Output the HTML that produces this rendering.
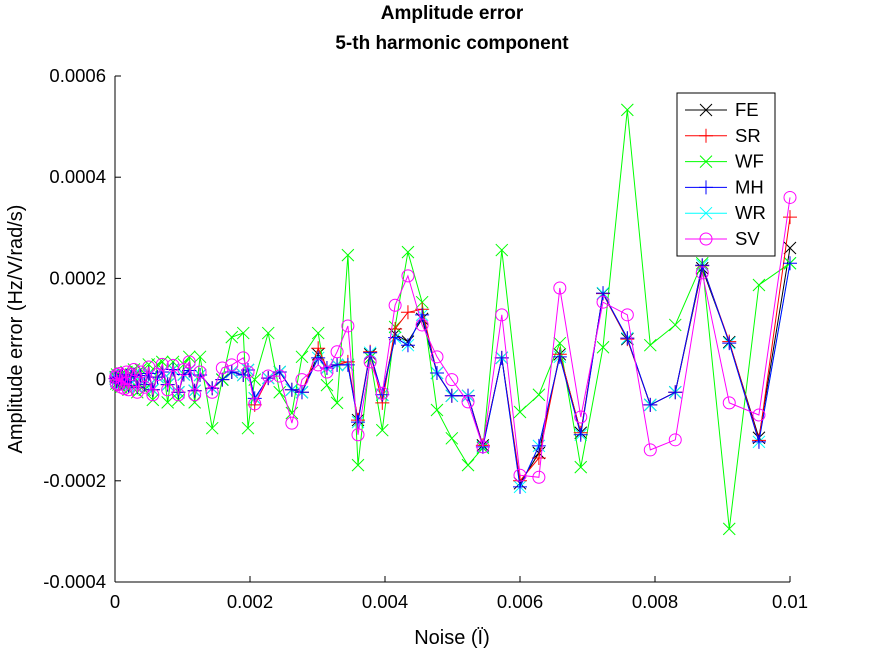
<!DOCTYPE html>
<html><head><meta charset="utf-8"><style>
body{margin:0;background:#fff;}
svg text{font-family:"Liberation Sans",sans-serif;}
</style></head><body>
<svg id="chart" width="872" height="654" xmlns="http://www.w3.org/2000/svg">
<rect width="872" height="654" fill="#fff"/>
<text x="452" y="19" text-anchor="middle" font-size="19" font-weight="bold">Amplitude error</text>
<text x="452" y="49" text-anchor="middle" font-size="19" font-weight="bold">5-th harmonic component</text>
<text transform="translate(22,329) rotate(-90)" text-anchor="middle" font-size="20">Amplitude error (Hz/V/rad/s)</text>
<text x="452" y="644" text-anchor="middle" font-size="20">Noise (Ï)</text>
<g id="axes"></g>
<g id="series"></g>
<g id="legend"></g>
</svg>
<script>
// x in units of 1e-3, y in units of 1e-4
const xVals=[0.01,0.02,0.03,0.05,0.07,0.09,0.11,0.14,0.17,0.2,0.24,0.28,0.33,0.38,0.44,0.5,0.56,0.63,0.7,0.78,0.86,0.94,1.02,1.1,1.18,
1.26,1.44,1.59,1.73,1.90,1.97,2.07,2.27,2.44,2.62,2.77,3.01,3.14,3.29,3.45,3.60,3.78,3.96,4.15,4.34,4.55,4.77,4.99,5.23,5.45,5.73,6.00,6.28,6.59,6.90,7.23,7.59,7.93,8.30,8.70,9.10,9.54,10.0];
const mhVals=[0.02,-0.03,0.05,-0.06,0.04,-0.08,0.1,-0.05,0.07,-0.12,0.06,0.1,-0.15,0.08,-0.1,0.12,-0.2,0.05,0.15,-0.1,0.2,-0.25,0.1,0.18,-0.22,
0.09,-0.17,0,0.15,0.09,0.19,-0.37,0.03,0.15,-0.2,-0.25,0.43,0.23,0.29,0.29,-0.84,0.53,-0.3,0.83,0.68,1.28,0.13,-0.32,-0.32,-1.33,0.43,-2.12,-1.31,0.45,-1.09,1.71,0.82,-0.5,-0.25,2.26,0.72,-1.23,2.3];
const feVals=[0.02,-0.03,0.05,-0.06,0.04,-0.08,0.1,-0.05,0.07,-0.12,0.06,0.1,-0.15,0.08,-0.1,0.12,-0.2,0.05,0.15,-0.1,0.2,-0.25,0.1,0.18,-0.22,
0.09,-0.17,0,0.15,0.09,0.19,-0.37,0.03,0.15,-0.2,-0.25,0.5,0.23,0.29,0.29,-0.8,0.5,-0.3,0.9,0.75,1.2,0.13,-0.32,-0.32,-1.3,0.43,-2.05,-1.45,0.5,-1.05,1.7,0.8,-0.5,-0.25,2.2,0.74,-1.15,2.6];
const srVals=[0.02,-0.03,0.05,-0.06,0.04,-0.08,0.1,-0.05,0.07,-0.12,0.06,0.1,-0.15,0.08,-0.1,0.12,-0.2,0.05,0.15,-0.1,0.2,-0.25,0.1,0.18,-0.22,
0.09,-0.17,0,0.15,0.09,0.19,-0.5,0.03,0.15,-0.2,-0.25,0.62,0.23,0.29,0.35,-0.8,0.55,-0.46,1.0,1.33,1.39,0.13,-0.32,-0.32,-1.3,0.43,-2.0,-1.55,0.5,-1.05,1.7,0.8,-0.5,-0.25,2.25,0.75,-1.2,3.21];
const wrVals=mhVals.slice();
const wfVals=[0.05,-0.08,0.1,-0.1,0.08,-0.15,0.12,-0.1,0.15,-0.2,0.1,0.2,-0.25,0.2,-0.2,0.3,-0.4,0.3,0.35,-0.45,0.35,-0.4,0.3,0.45,-0.45,
0.45,-0.96,0,0.84,0.92,-0.96,0,0.92,-0.25,-0.66,0.45,0.92,-0.11,-0.46,2.46,-1.69,0.43,-1.0,1.04,2.52,1.53,-0.6,-1.16,-1.69,-1.35,2.56,-0.64,-0.3,0.72,-1.73,0.64,5.33,0.68,1.08,2.3,-2.95,1.87,2.3];
const svVals=[0.05,-0.08,0.1,-0.1,0.12,-0.15,0.08,-0.18,0.15,-0.2,0.1,0.2,-0.25,0.15,-0.15,0.25,-0.3,0.1,0.3,-0.2,0.28,-0.3,0.2,0.35,-0.3,
0.15,-0.25,0.23,0.29,0.43,0.15,-0.48,0.07,0.07,-0.86,0,0.29,0.15,0.55,1.06,-1.09,0.35,-0.27,1.47,2.05,1.08,0.45,0,-0.44,-1.33,1.28,-1.89,-1.93,1.81,-0.74,1.53,1.28,-1.39,-1.19,2.11,-0.46,-0.70,3.6];
const yTicks=[6,4,2,0,-2,-4];
const yTickLabels=["0.0006","0.0004","0.0002","0","-0.0002","-0.0004"];
const xTicks=[0,2,4,6,8,10];
const xTickLabels=["0","0.002","0.004","0.006","0.008","0.01"];
const seriesNames=["FE","SR","WF","MH","WR","SV"];
const seriesColors=["#000","#f00","#0f0","#00f","#0ff","#f0f"];
const seriesMarkers=["x","+","x","+","x","o"];
const seriesData=[feVals,srVals,wfVals,mhVals,wrVals,svVals];

const NS="http://www.w3.org/2000/svg";
const X0=115,X1=790,Y0=379.6,YS=50.6;
function sx(v){return X0+(X1-X0)*v/10;}
function sy(v){return Y0-v*YS;}
function mk(tag,attrs,parent){const e=document.createElementNS(NS,tag);for(const k in attrs)e.setAttribute(k,attrs[k]);parent.appendChild(e);return e;}
const axes=document.getElementById('axes');
let a=mk('line',{x1:X0,y1:sy(6),x2:X0,y2:sy(-4),stroke:'#000','stroke-width':1},axes);


a=mk('line',{x1:X0,y1:sy(-4),x2:X1,y2:sy(-4),stroke:'#000','stroke-width':1},axes);


yTicks.forEach((t,i)=>{
  const l=mk('line',{x1:X0,y1:sy(t),x2:X0+6,y2:sy(t),stroke:'#000'},axes);
  
  
  const tx=mk('text',{x:X0-9,y:sy(t)+6,'text-anchor':'end','font-size':18.5},axes);
  tx.textContent=yTickLabels[i];
  
  
});
xTicks.forEach((t,i)=>{
  const l=mk('line',{x1:sx(t),y1:sy(-4),x2:sx(t),y2:sy(-4)-6,stroke:'#000'},axes);
  
  
  const tx=mk('text',{x:sx(t),y:sy(-4)+26,'text-anchor':'middle','font-size':18.5},axes);
  tx.textContent=xTickLabels[i];
  
  
});
function marker(type,x,y,c,g){
  const s=6;
  if(type==='x'){mk('path',{d:`M${x-s} ${y-s}L${x+s} ${y+s}M${x-s} ${y+s}L${x+s} ${y-s}`,stroke:c,fill:'none','stroke-width':1},g);}
  else if(type==='+'){mk('path',{d:`M${x-s-1} ${y}L${x+s+1} ${y}M${x} ${y-s-1}L${x} ${y+s+1}`,stroke:c,fill:'none','stroke-width':1},g);}
  else{mk('circle',{cx:x,cy:y,r:6,stroke:c,fill:'none','stroke-width':1},g);}
}
const sg=document.getElementById('series');
[0,4,2,1,3,5].forEach(si=>{
  const g=mk('g',{},sg);
  
  
  const vals=seriesData[si];
  const pts=xVals.map((x,i)=>sx(x).toFixed(1)+','+sy(vals[i]).toFixed(1)).join(' ');
  mk('polyline',{points:pts,fill:'none',stroke:seriesColors[si],'stroke-width':1},g);
  xVals.forEach((x,i)=>marker(seriesMarkers[si],sx(x),sy(vals[i]),seriesColors[si],g));
});
const lg=document.getElementById('legend');


mk('rect',{x:677,y:93,width:98,height:163,fill:'#fff',stroke:'#000','stroke-width':1},lg);
seriesNames.forEach((n,i)=>{
  const y=110+i*25.8;
  const g=mk('g',{},lg);
  
  
  mk('line',{x1:685,y1:y,x2:727,y2:y,stroke:seriesColors[i]},g);
  marker(seriesMarkers[i],706,y,seriesColors[i],g);
  const t=mk('text',{x:735,y:y+6,'font-size':18.5},g);
  t.textContent=n;
});
</script>
</body></html>
